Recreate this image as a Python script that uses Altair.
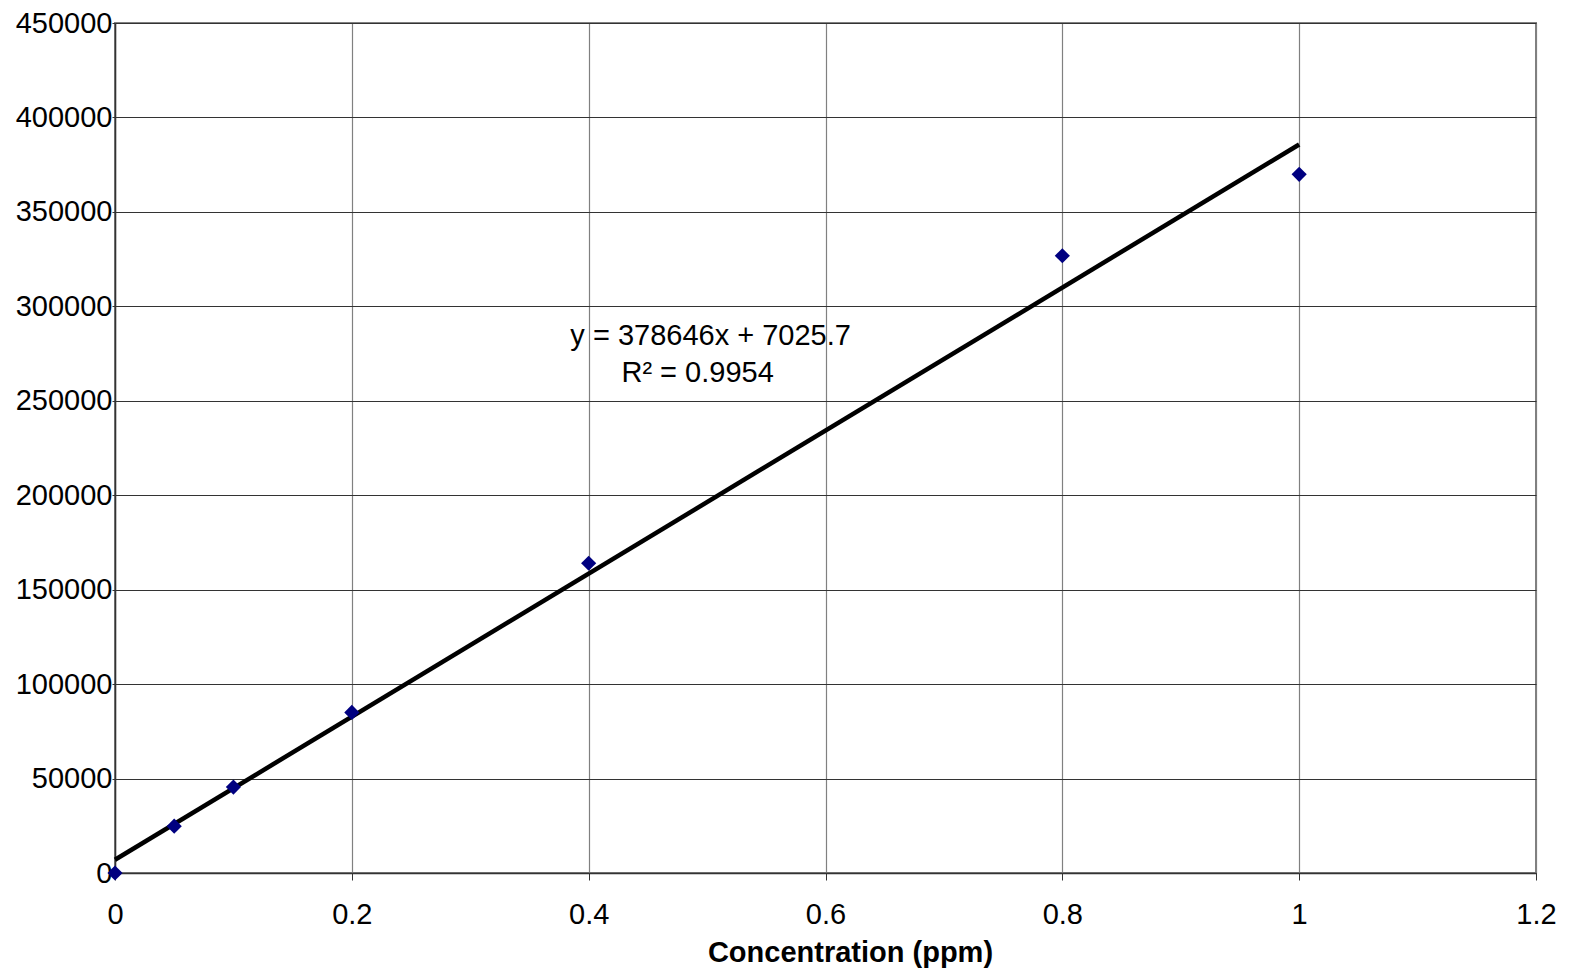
import altair as alt
import pandas as pd

conc = [0, 0.05, 0.1, 0.2, 0.4, 0.8, 1.0]
signal = [0, 24800, 45500, 85000, 164000, 326800, 369900]

slope = 378646
intercept = 7025.7
trend_x = [0, 1.0]

eq_text = "y = 378646x + 7025.7"
r2_text = "R² = 0.9954"
eq_pos = (0.503, 279500)
r2_pos = (0.492, 260000)

x_ticks = [0, 0.2, 0.4, 0.6, 0.8, 1.0, 1.2]
y_ticks = [0, 50000, 100000, 150000, 200000, 250000, 300000, 350000, 400000, 450000]

FONT = "Liberation Sans"

pts = pd.DataFrame({"x": conc, "y": signal})
trend = pd.DataFrame({"x": trend_x, "y": [slope * v + intercept for v in trend_x]})
ann = pd.DataFrame({
    "x": [eq_pos[0], r2_pos[0]],
    "y": [eq_pos[1], r2_pos[1]],
    "t": [eq_text, r2_text],
})

xs = alt.Scale(domain=[0, 1.2], nice=False, zero=False)
ys = alt.Scale(domain=[0, 450000], nice=False)

x_axis = alt.Axis(
    values=x_ticks, title="Concentration (ppm)", format="~g",
    labelFontSize=29, labelFont=FONT, labelColor="black", labelFlush=False,
    titleFontSize=29, titleFont=FONT, titleFontWeight="bold", titleColor="black",
    titleX=735, titleY=88, titleBaseline="alphabetic",
    tickSize=7, tickColor="#333", labelPadding=20,
    domainColor="#333", domainWidth=1.5,
    grid=True, gridColor="#808080", gridWidth=1.2,
)
y_axis = alt.Axis(
    values=y_ticks, title=None, format="d",
    labelFontSize=29, labelFont=FONT, labelColor="black", labelFlush=False,
    tickSize=3, tickColor="#333", labelPadding=0,
    domainColor="#333", domainWidth=1.5,
    grid=True, gridColor="#333", gridWidth=1,
)

line = alt.Chart(trend).mark_line(color="black", strokeWidth=4.5).encode(
    x=alt.X("x:Q", scale=xs, axis=x_axis),
    y=alt.Y("y:Q", scale=ys, axis=y_axis),
)

pts_layer = alt.Chart(pts).mark_point(
    shape="diamond", filled=True, color="#000080", size=230, opacity=1
).encode(
    x=alt.X("x:Q", scale=xs),
    y=alt.Y("y:Q", scale=ys),
)

text = alt.Chart(ann).mark_text(
    font=FONT, fontSize=29, color="black", align="center", baseline="alphabetic"
).encode(
    x=alt.X("x:Q", scale=xs),
    y=alt.Y("y:Q", scale=ys),
    text="t:N",
)

chart = alt.layer(line, pts_layer, text).properties(
    width=1421,
    height=850,
    autosize=alt.AutoSizeParams(type="none"),
    padding={"left": 115, "top": 23, "right": 33, "bottom": 99},
    background="white",
).configure_view(
    stroke="#808080", strokeWidth=2
)

chart.save("out.html", embed_options={"renderer": "svg", "actions": False})
